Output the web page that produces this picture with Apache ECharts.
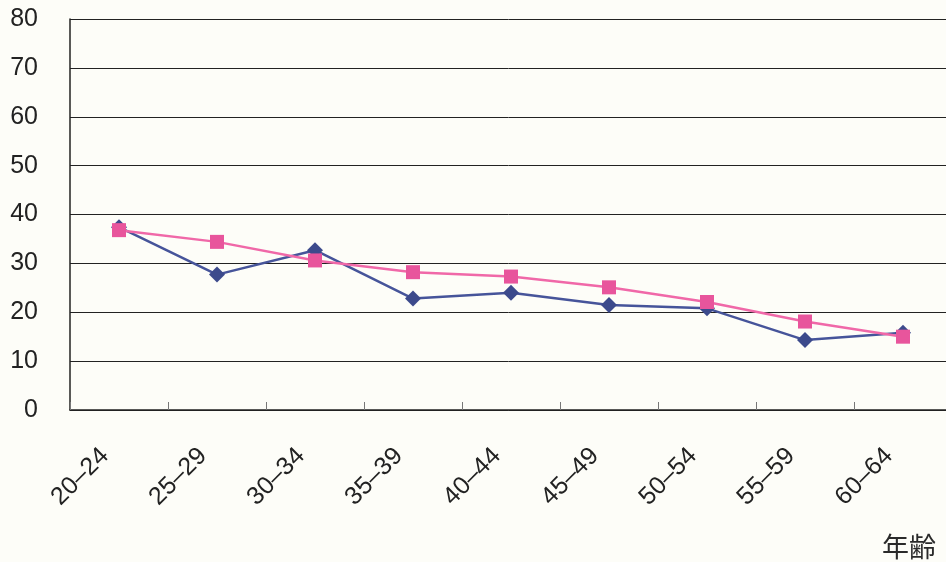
<!DOCTYPE html>
<html><head><meta charset="utf-8">
<script src="https://cdn.jsdelivr.net/npm/echarts@6/dist/echarts.min.js"></script>
<style>html,body{margin:0;padding:0;background:#fdfdf8;}#c{width:946px;height:562px;}</style>
</head><body><div id="c"></div>
<script>
const categories = ['20–24','25–29','30–34','35–39','40–44','45–49','50–54','55–59','60–64'];
const seriesBlue = [37.4, 27.7, 32.7, 22.8, 24.0, 21.5, 20.8, 14.3, 15.8];
const seriesPink = [36.8, 34.4, 30.6, 28.2, 27.3, 25.1, 22.1, 18.1, 15.0];
const yTicks = {min: 0, max: 80, interval: 10};
const xName = '年齢';

const chart = echarts.init(document.getElementById('c'));
chart.setOption({
  backgroundColor: '#fdfdf8',
  animation: false,
  grid: {left: 70, width: 882, top: 19, height: 391, outerBoundsMode: 'none', containLabel: false},
  xAxis: {
    type: 'category', data: categories, boundaryGap: true,
    axisLine: {lineStyle: {color: '#222', width: 1.5}},
    axisTick: {show: true, inside: true, length: 8, lineStyle: {color: '#777'}},
    axisLabel: {rotate: 45, margin: 28, padding: [0, 20, 0, 0], fontSize: 25, color: '#222', fontFamily: 'Liberation Sans, Arial, sans-serif'}
  },
  yAxis: {
    type: 'value', min: yTicks.min, max: yTicks.max, interval: yTicks.interval,
    axisLine: {show: true, lineStyle: {color: '#222', width: 1.5}},
    axisTick: {show: false},
    splitLine: {lineStyle: {color: '#222', width: 1}},
    axisLabel: {margin: 32, fontSize: 25, color: '#222', fontFamily: 'Liberation Sans, Arial, sans-serif'}
  },
  graphic: [{type: 'text', right: 10, bottom: 2, style: {text: xName, fontSize: 27, fill: '#2a2a2a', fontFamily: 'Noto Sans CJK JP'}}],
  series: [
    {type: 'line', data: seriesBlue, symbol: 'diamond', symbolSize: 16,
     lineStyle: {color: '#46549a', width: 2.5}, itemStyle: {color: '#3c4a8c'}},
    {type: 'line', data: seriesPink, symbol: 'rect', symbolSize: 14,
     lineStyle: {color: '#f068a8', width: 2.5}, itemStyle: {color: '#e8559c'}}
  ]
});
</script></body></html>
